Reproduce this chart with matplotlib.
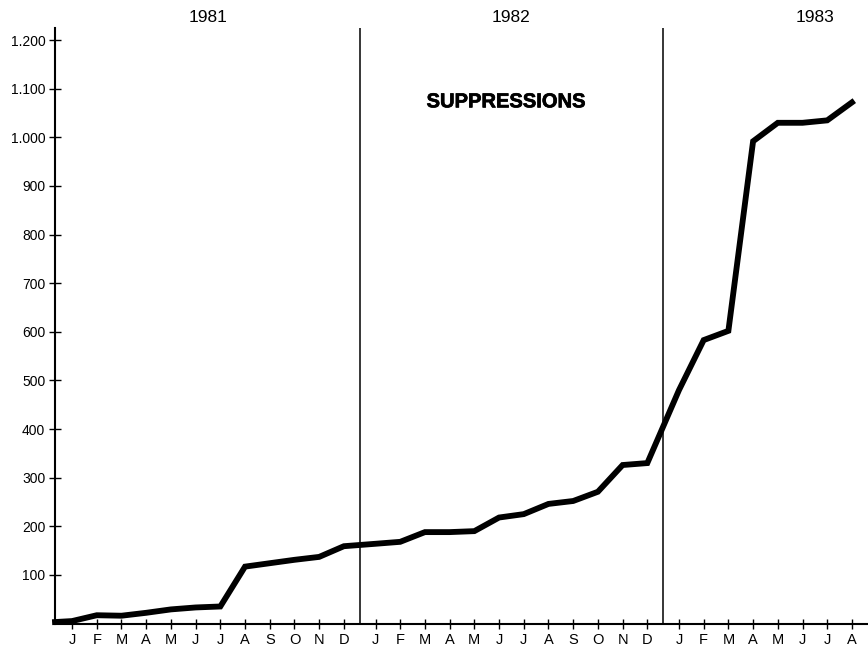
import matplotlib
matplotlib.use("Agg")
import matplotlib.pyplot as plt
import matplotlib.transforms as mtransforms
import matplotlib.patheffects as pe
import numpy as np

plt.rcParams['font.family'] = ['Liberation Sans', 'DejaVu Sans']

# data (monthly suppressions, cumulative)
years = ['1981', '1982', '1983']
month_labels = ['J', 'F', 'M', 'A', 'M', 'J', 'J', 'A', 'S', 'O', 'N', 'D']
months_per_year = [12, 12, 8]
start_value = 3
values_1981 = [5, 17, 16, 22, 29, 33, 35, 117, 124, 131, 137, 159]
values_1982 = [164, 168, 188, 188, 190, 218, 225, 246, 252, 271, 326, 330]
values_1983 = [480, 583, 602, 992, 1030, 1030, 1035, 1072]
yticks = [100, 200, 300, 400, 500, 600, 700, 800, 900, 1000, 1100, 1200]

gap = 0.28  # extra space between years

xpos = []
xlab = []
for i, n in enumerate(months_per_year):
    for j in range(n):
        xpos.append(i * 12 + j + i * gap)
        xlab.append(month_labels[j])
xpos = np.array(xpos)
vals = np.array(values_1981 + values_1982 + values_1983)

xmin = -0.69
xmax = xpos[-1] + 0.65

fig = plt.figure(figsize=(8.68, 6.47), dpi=100)
ax = fig.add_axes([55/868, 1-623.5/647, 1-55/868, (623.5-28)/647])

x_line = np.concatenate([[xmin], xpos])
y_line = np.concatenate([[start_value], vals])
ax.plot(x_line, y_line, color='black', lw=4.2, solid_joinstyle='miter', clip_on=False, zorder=3)

# year separators, in the middle of the gap between december and january
for i in range(1, len(years)):
    xb = (i * 12 + i * gap) - 0.5 - gap / 2
    ax.axvline(xb, color='black', lw=1.1, zorder=2)

ax.set_xlim(xmin, xmax)
ax.set_ylim(0, 1225)

ax.set_xticks(xpos)
ax.set_xticklabels(xlab, fontsize=10.5)
ax.set_yticks(yticks)
ax.set_yticklabels([f'{v:,}'.replace(',', '.') for v in yticks], fontsize=10)

ax.tick_params(axis='x', direction='inout', length=7, width=1, pad=3)
ax.tick_params(axis='y', direction='inout', length=8, width=1, pad=3)

for s in ['top', 'right']:
    ax.spines[s].set_visible(False)
ax.spines['left'].set_linewidth(1.5)
ax.spines['bottom'].set_linewidth(1.5)

trans = mtransforms.blended_transform_factory(ax.transData, ax.transAxes)
for i, y in enumerate(years):
    xc = i * 12 + i * gap + 5.5
    ax.text(xc, 1.017, y, transform=trans, ha='center', va='center', fontsize=12.5)

ax.text(0.555, 0.876, 'SUPPRESSIONS', transform=ax.transAxes, ha='center', va='center',
        fontsize=14.5, fontweight='bold',
        path_effects=[pe.withStroke(linewidth=0.5, foreground='black')])

plt.savefig('out.png', dpi=100)
